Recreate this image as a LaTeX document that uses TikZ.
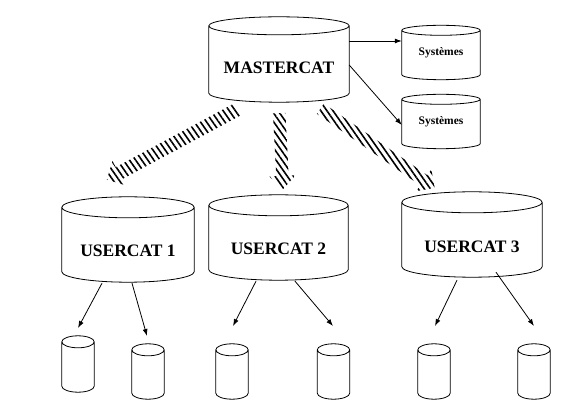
\documentclass[tikz,border=0pt]{standalone}
\usepackage{fontspec}
\setmainfont{Liberation Serif}
\usetikzlibrary{shapes.arrows, arrows.meta, patterns.meta, calc}

\begin{document}
\begin{tikzpicture}[x=1pt, y=-1pt]

		% Setup the styles for the catalogs
		\tikzset{cat style/.style={rectangle, inner sep=0pt},
			cat text/.style={font=\fontsize{17.5}{20}\selectfont\bfseries, inner sep=0pt},
			big cat/.style={cat style, minimum height=85pt},
			sys cat/.style={cat style, minimum height=54pt, minimum width=78pt,
				font=\fontsize{11.5}{13}\selectfont\bfseries},
			disk/.style={cat style, minimum height=55pt, minimum width=32pt},
			cyl line/.style={line width=0.8pt},
			hatch arrow/.style={single arrow,
				minimum width=26pt,
				single arrow head extend=7pt,
				inner xsep=0pt, inner ysep=6pt,
				pattern={Lines[angle=-55, distance=5pt, line width=1.6pt]}},
			thin arrow/.style={-{Latex[length=7pt, width=5pt]}, line width=0.8pt}}

		\useasboundingbox (0,0) rectangle (578,411);

		% Draw the catalogs
		\node[big cat, minimum width=140pt,
			label={[cat text, yshift=-8.5pt]center:MASTERCAT}] at (279, 59.5) (master) {};
		\node[sys cat] at (441, 52.5)  (sys1) {Systèmes};
		\node[sys cat] at (441, 121.5) (sys2) {Systèmes};
		\node[big cat, minimum width=132pt,
			label={[cat text, yshift=-11.5pt]center:USERCAT 1}] at (128, 239.5) (user1) {};
		\node[big cat, minimum width=139pt,
			label={[cat text, yshift=-11.5pt]center:USERCAT 2}] at (278.5, 237.5) (user2) {};
		\node[big cat, minimum width=140pt,
			label={[cat text, yshift=-12.5pt]center:USERCAT 3}] at (472, 234.5) (user3) {};

		% Draw the volumes
		\node[disk, minimum height=56pt] at (78, 364) (vol1) {};
		\node[disk] at (148, 371.5) (vol2) {};
		\node[disk] at (232, 371.5) (vol3) {};
		\node[disk] at (333.5, 371.5) (vol4) {};
		\node[disk] at (434, 371.5) (vol5) {};
		\node[disk] at (534, 371.5) (vol6) {};

		% Cylinder outlines round the nodes
		\foreach \cyl/\ry in {master/9, sys1/5, sys2/5, user1/10.5, user2/10.5, user3/10.5,
				vol1/6, vol2/6, vol3/6, vol4/6, vol5/6, vol6/6}
		\draw[cyl line] let \p1=(\cyl.west), \p2=(\cyl.east), \n1={(\x2-\x1)/2} in
			([yshift=-\ry pt]\cyl.north) ellipse [x radius=\n1, y radius=\ry pt]
			([yshift=-\ry pt]\cyl.north west) -- ([yshift=\ry pt]\cyl.south west)
			arc[start angle=180, end angle=360, x radius=\n1, y radius=\ry pt]
			-- ([yshift=-\ry pt]\cyl.north east);

		% Hatched arrows towards the user catalogs
		\node[hatch arrow, minimum height=148pt, rotate=208.3] at (175, 143)   (down1) {};
		\node[hatch arrow, minimum height=76pt,  rotate=-87]   at (281, 148)   (down2) {};
		\node[hatch arrow, minimum height=139pt, rotate=-34.7] at (375, 146.5) (down3) {};

		% Free ends of the thin arrows
		\coordinate (tip1) at (78, 328);
		\coordinate (tip2) at (147, 336);
		\coordinate (tip3) at (233, 326);
		\coordinate (tip4) at (333, 326);
		\coordinate (tip5) at (435, 326);
		\coordinate (tip6) at (534, 326);

		% Connect the catalogs with arrows
		\draw[thin arrow] ($(master.east)+(0,-18.5)$) -- ($(sys1.west)+(0,-11.5)$);
		\draw[thin arrow] ($(master.east)+(0,5.5)$) -- ($(sys2.west)+(0,3.5)$);
		\draw[thin arrow] ($(user1.south)+(-26,1)$) -- (tip1);
		\draw[thin arrow] ($(user1.south)+(4,1)$) -- (tip2);
		\draw[thin arrow] ($(user2.south)+(-22.5,1)$) -- (tip3);
		\draw[thin arrow] ($(user2.south)+(16.5,1)$) -- (tip4);
		\draw[thin arrow] ($(user3.south)+(-15,3)$) -- (tip5);
		\draw[thin arrow] ($(user3.south)+(24,-5)$) -- (tip6);
\end{tikzpicture}
\end{document}
